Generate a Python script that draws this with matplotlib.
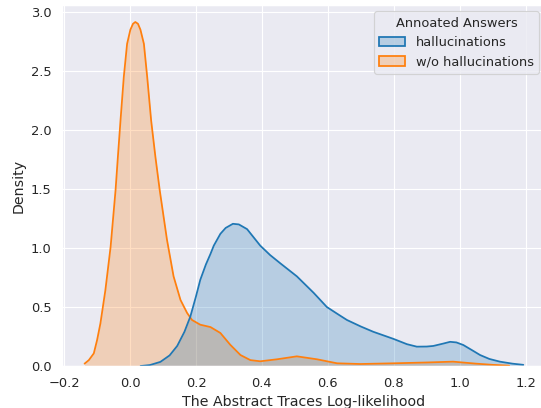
import matplotlib
matplotlib.use("Agg")
import matplotlib.pyplot as plt
from matplotlib.patches import Patch
import seaborn as sns
import numpy as np

# density curves (x, density)
hall_x = [0.032, 0.06, 0.092, 0.12, 0.143, 0.165, 0.183, 0.200, 0.213, 0.230,
          0.244, 0.254, 0.274, 0.290, 0.312, 0.330, 0.355, 0.375, 0.395, 0.425,
          0.456, 0.506, 0.557, 0.597, 0.630, 0.658, 0.700, 0.738, 0.799, 0.840,
          0.870, 0.900, 0.920, 0.950, 0.971, 0.990, 1.011, 1.040, 1.062, 1.090,
          1.122, 1.160, 1.193]
hall_y = [0.0, 0.008, 0.035, 0.09, 0.17, 0.29, 0.42, 0.59, 0.73, 0.86,
          0.95, 1.02, 1.12, 1.17, 1.205, 1.20, 1.16, 1.09, 1.02, 0.94,
          0.87, 0.76, 0.62, 0.50, 0.44, 0.39, 0.335, 0.29, 0.23, 0.185,
          0.164, 0.165, 0.17, 0.19, 0.205, 0.20, 0.178, 0.13, 0.093, 0.06,
          0.037, 0.02, 0.01]

nohall_x = [-0.138, -0.125, -0.110, -0.100, -0.090, -0.075, -0.059, -0.044,
            -0.037, -0.029, -0.019, -0.009, 0.001, 0.009, 0.016, 0.024, 0.0315,
            0.042, 0.052, 0.064, 0.077, 0.090, 0.112, 0.132, 0.153, 0.173,
            0.188, 0.213, 0.244, 0.274, 0.304, 0.335, 0.365, 0.395, 0.446,
            0.506, 0.567, 0.628, 0.698, 0.80, 0.90, 0.98, 1.05, 1.10, 1.15]
nohall_y = [0.02, 0.05, 0.107, 0.22, 0.36, 0.64, 1.01, 1.49,
            1.77, 2.08, 2.45, 2.73, 2.85, 2.90, 2.915, 2.90, 2.85,
            2.73, 2.45, 2.08, 1.77, 1.49, 1.07, 0.76, 0.56, 0.45,
            0.39, 0.35, 0.33, 0.28, 0.18, 0.093, 0.05, 0.04, 0.057,
            0.082, 0.057, 0.023, 0.017, 0.023, 0.03, 0.037, 0.02, 0.01, 0.003]

labels = ["hallucinations", "w/o hallucinations"]
colors = ["#1f77b4", "#ff7f0e"]

DPI = 85

sns.set_theme(style="darkgrid")

fig, ax = plt.subplots(figsize=(541 / DPI, 408 / DPI), dpi=DPI)
# the right edge of the axes sits just past the picture edge
fig.subplots_adjust(left=0.1155, right=1.0081, bottom=0.1029, top=0.988)

# seaborn draws hue levels in reverse, so orange goes first
for xs, ys, c in [(nohall_x, nohall_y, colors[1]), (hall_x, hall_y, colors[0])]:
    ax.fill_between(xs, 0, ys, facecolor=c, alpha=0.25, linewidth=0)
    ax.plot(xs, ys, color=c, lw=1.5)

ax.set_xlim(-0.205, 1.26)
ax.set_ylim(0, 3.06)
ax.set_xticks([-0.2, 0.0, 0.2, 0.4, 0.6, 0.8, 1.0, 1.2])
ax.set_xlabel("The Abstract Traces Log-likelihood")
ax.set_ylabel("Density")

handles = [Patch(facecolor=matplotlib.colors.to_rgba(c, 0.25), edgecolor=c, linewidth=1.5)
           for c in colors]
ax.legend(handles, labels, title="Annoated Answers", loc="upper right",
          fontsize=11, title_fontsize=11)

fig.savefig("out.png", dpi=DPI)
